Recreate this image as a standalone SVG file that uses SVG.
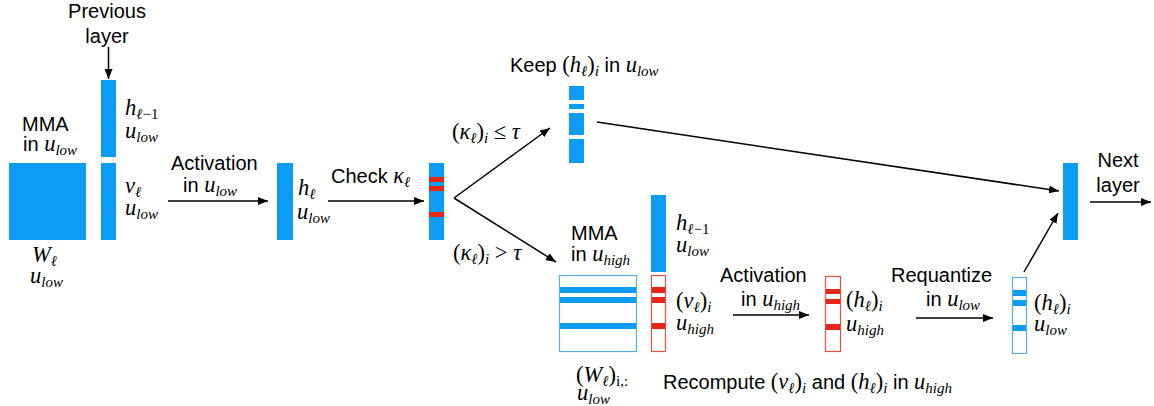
<svg xmlns="http://www.w3.org/2000/svg" width="1154" height="406" viewBox="0 0 1154 406">
<style>
.s{font-family:"Liberation Sans",Arial,Helvetica,sans-serif;font-size:20px;fill:#000}
.m{font-family:"Liberation Serif","Times New Roman",serif;font-style:italic;font-size:22.5px;fill:#000}
.n{font-style:normal}
.sb{font-size:15px}
.bar{fill:#0C9CF4}
.red{fill:#E8251B}
.wht{fill:#FFFFFF}
.ob{fill:#FFFFFF;stroke:#5AAEE8;stroke-width:1.2}
.or{fill:#FFFFFF;stroke:#E8503F;stroke-width:1.2}
.c{stroke:#000;stroke-width:1.5;fill:none;marker-end:url(#ah)}
</style>
<defs>
<marker id="ah" markerUnits="userSpaceOnUse" markerWidth="10" markerHeight="8" refX="10" refY="4" orient="auto">
<path d="M0,0 L10,4 L0,8 z" fill="#000"/>
</marker>
</defs>
<rect width="1154" height="406" fill="#fff"/>

<g id="connectors">
<line class="c" x1="108.5" y1="47" x2="108.5" y2="79"/>
<line class="c" x1="168" y1="201" x2="268" y2="201"/>
<line class="c" x1="328" y1="201" x2="424" y2="201"/>
<line class="c" x1="454" y1="198" x2="550" y2="128"/>
<line class="c" x1="454" y1="198" x2="556" y2="262"/>
<line class="c" x1="597" y1="122" x2="1059" y2="191"/>
<line class="c" x1="1090" y1="202" x2="1151" y2="202"/>
<line class="c" x1="733" y1="315" x2="809" y2="315"/>
<line class="c" x1="916" y1="318" x2="993" y2="318"/>
<line class="c" x1="1024" y1="272" x2="1058" y2="213"/>
</g>

<g id="prev-layer">
<text class="s" x="107" y="18" text-anchor="middle">Previous</text>
<text class="s" x="107" y="43" text-anchor="middle">layer</text>
</g>

<g id="W">
<rect class="bar" x="9" y="163" width="77" height="77"/>
<text class="s" x="22" y="131">MMA</text>
<text class="s" x="23" y="151">in <tspan class="m">u</tspan><tspan class="m sb" dy="4">low</tspan></text>
<text class="m" x="32" y="262">W<tspan class="sb" dy="4">ℓ</tspan></text>
<text class="m" x="30" y="283">u<tspan class="sb" dy="4">low</tspan></text>
</g>

<g id="h-prev">
<rect class="bar" x="101" y="80" width="15" height="77"/>
<text class="m" x="125" y="115">h<tspan class="sb" dy="4">ℓ<tspan class="n">−1</tspan></tspan></text>
<text class="m" x="125" y="138">u<tspan class="sb" dy="4">low</tspan></text>
</g>

<g id="v">
<rect class="bar" x="101" y="163" width="15" height="77"/>
<text class="m" x="125" y="193">v<tspan class="sb" dy="4">ℓ</tspan></text>
<text class="m" x="125" y="215">u<tspan class="sb" dy="4">low</tspan></text>
</g>

<g id="act-low-label">
<text class="s" x="171" y="170">Activation</text>
<text class="s" x="183" y="192">in <tspan class="m">u</tspan><tspan class="m sb" dy="4">low</tspan></text>
</g>

<g id="h">
<rect class="bar" x="277" y="163" width="16" height="77"/>
<text class="m" x="298" y="195">h<tspan class="sb" dy="4">ℓ</tspan></text>
<text class="m" x="297" y="219">u<tspan class="sb" dy="4">low</tspan></text>
</g>

<g id="check-label">
<text class="s" x="331" y="183">Check <tspan class="m">κ</tspan><tspan class="m sb" dy="4">ℓ</tspan></text>
</g>

<g id="checked">
<rect class="bar" x="429" y="163" width="15" height="77"/>
<rect class="red" x="429" y="177" width="15" height="5"/>
<rect class="red" x="429" y="186" width="15" height="5"/>
<rect class="red" x="429" y="212" width="15" height="5"/>
</g>

<g id="cond-labels">
<text class="m" x="452" y="139"><tspan class="n">(</tspan>κ<tspan class="sb" dy="4">ℓ</tspan><tspan class="n" dy="-4">)</tspan><tspan class="sb" dy="4">i</tspan><tspan class="n" dy="-4"> ≤ </tspan>τ</text>
<text class="m" x="453" y="260"><tspan class="n">(</tspan>κ<tspan class="sb" dy="4">ℓ</tspan><tspan class="n" dy="-4">)</tspan><tspan class="sb" dy="4">i</tspan><tspan class="n" dy="-4"> &gt; </tspan>τ</text>
</g>

<g id="keep">
<text class="s" x="510" y="72">Keep <tspan class="m n">(</tspan><tspan class="m">h</tspan><tspan class="m sb" dy="4">ℓ</tspan><tspan class="m n" dy="-4">)</tspan><tspan class="m sb" dy="4">i</tspan><tspan dy="-4"> in </tspan><tspan class="m">u</tspan><tspan class="m sb" dy="4">low</tspan></text>
<rect class="bar" x="569" y="86" width="15" height="77"/>
<rect class="wht" x="569" y="100" width="15" height="4"/>
<rect class="wht" x="569" y="109" width="15" height="4"/>
<rect class="wht" x="569" y="135" width="15" height="4"/>
</g>

<g id="next">
<rect class="bar" x="1063" y="163" width="15" height="77"/>
<text class="s" x="1118" y="167" text-anchor="middle">Next</text>
<text class="s" x="1118" y="192" text-anchor="middle">layer</text>
</g>

<g id="W-rows">
<text class="s" x="571" y="240">MMA</text>
<text class="s" x="571" y="261">in <tspan class="m">u</tspan><tspan class="m sb" dy="4">high</tspan></text>
<rect class="ob" x="559.5" y="275.5" width="77" height="76"/>
<rect class="bar" x="560" y="287" width="76" height="6"/>
<rect class="bar" x="560" y="297" width="76" height="6"/>
<rect class="bar" x="560" y="323" width="76" height="6"/>
<text class="m" x="576" y="382"><tspan class="n">(</tspan>W<tspan class="sb" dy="4">ℓ</tspan><tspan class="n" dy="-4">)</tspan><tspan class="sb n" dy="4">i,:</tspan></text>
<text class="m" x="577" y="400">u<tspan class="sb" dy="4">low</tspan></text>
</g>

<g id="h-prev-2">
<rect class="bar" x="651" y="195" width="15" height="77"/>
<text class="m" x="676" y="230">h<tspan class="sb" dy="4">ℓ<tspan class="n">−1</tspan></tspan></text>
<text class="m" x="676" y="252">u<tspan class="sb" dy="4">low</tspan></text>
</g>

<g id="v-i">
<rect class="or" x="651.5" y="275.5" width="14" height="76"/>
<rect class="red" x="652" y="287" width="13" height="6"/>
<rect class="red" x="652" y="297" width="13" height="6"/>
<rect class="red" x="652" y="323" width="13" height="6"/>
<text class="m" x="676" y="308"><tspan class="n">(</tspan>v<tspan class="sb" dy="4">ℓ</tspan><tspan class="n" dy="-4">)</tspan><tspan class="sb" dy="4">i</tspan></text>
<text class="m" x="676" y="330">u<tspan class="sb" dy="4">high</tspan></text>
</g>

<g id="act-high-label">
<text class="s" x="720" y="282">Activation</text>
<text class="s" x="741" y="306">in <tspan class="m">u</tspan><tspan class="m sb" dy="4">high</tspan></text>
</g>

<g id="h-i-high">
<rect class="or" x="825.5" y="276.5" width="15" height="75"/>
<rect class="red" x="826" y="289" width="14" height="5"/>
<rect class="red" x="826" y="299" width="14" height="5"/>
<rect class="red" x="826" y="324" width="14" height="6"/>
<text class="m" x="846" y="307"><tspan class="n">(</tspan>h<tspan class="sb" dy="4">ℓ</tspan><tspan class="n" dy="-4">)</tspan><tspan class="sb" dy="4">i</tspan></text>
<text class="m" x="846" y="331">u<tspan class="sb" dy="4">high</tspan></text>
</g>

<g id="requant-label">
<text class="s" x="891" y="282">Requantize</text>
<text class="s" x="926" y="306">in <tspan class="m">u</tspan><tspan class="m sb" dy="4">low</tspan></text>
</g>

<g id="h-i-low">
<rect class="ob" x="1012.5" y="277.5" width="14" height="76"/>
<rect class="bar" x="1013" y="290" width="13" height="6"/>
<rect class="bar" x="1013" y="300" width="13" height="6"/>
<rect class="bar" x="1013" y="325" width="13" height="6"/>
<text class="m" x="1034" y="310"><tspan class="n">(</tspan>h<tspan class="sb" dy="4">ℓ</tspan><tspan class="n" dy="-4">)</tspan><tspan class="sb" dy="4">i</tspan></text>
<text class="m" x="1034" y="331">u<tspan class="sb" dy="4">low</tspan></text>
</g>

<g id="recompute-label">
<text class="s" x="663" y="389">Recompute <tspan class="m n">(</tspan><tspan class="m">v</tspan><tspan class="m sb" dy="4">ℓ</tspan><tspan class="m n" dy="-4">)</tspan><tspan class="m sb" dy="4">i</tspan><tspan dy="-4"> and </tspan><tspan class="m n">(</tspan><tspan class="m">h</tspan><tspan class="m sb" dy="4">ℓ</tspan><tspan class="m n" dy="-4">)</tspan><tspan class="m sb" dy="4">i</tspan><tspan dy="-4"> in </tspan><tspan class="m">u</tspan><tspan class="m sb" dy="4">high</tspan></text>
</g>
</svg>
